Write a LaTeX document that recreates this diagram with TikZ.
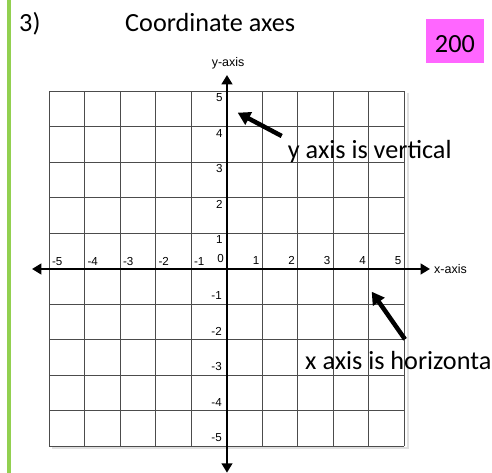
\documentclass[tikz,border=0pt]{standalone}
\usepackage{fontspec}
\setmainfont{Carlito}
\newfontfamily\arialfont{Liberation Sans}
\usetikzlibrary{arrows.meta}
\definecolor{slidegreen}{HTML}{92D050}
\definecolor{pointspink}{HTML}{FF66FF}
\begin{document}
\begin{tikzpicture}[
    bigtext/.style={font=\fontsize{21}{25}\selectfont, inner sep=0pt},
    ticklabel/.style={font=\arialfont\fontsize{9.3}{11}\selectfont, inner sep=0pt},
    axislabel/.style={font=\arialfont\fontsize{10}{12}\selectfont, inner sep=0pt},
    axisline/.style={line width=2.3pt, -{Triangle[length=7.5pt,width=8.5pt]}},
    pointer/.style={line width=3.6pt, -{Triangle[length=10pt,width=11pt]}}
  ]
  \useasboundingbox (-6.394,-5.746) rectangle (7.465,7.577);
  \fill[slidegreen] (-6.197,-5.746) rectangle (-6.07,7.577);

  % heading
  \node[bigtext, anchor=base west] (qnum) at (-5.859,6.685) {3)};
  \node[bigtext, anchor=base west] (title) at (-2.873,6.685) {Coordinate axes};
  \node[bigtext, fill=pointspink, text height=0.674cm, text depth=0pt,
        minimum width=1.633cm, minimum height=1.231cm] (points) at (6.42,6.427) {200};

  % grid
  \draw[black!12, line width=1.2pt] (5.1,4.97) -- (5.1,-5.04) -- (-4.93,-5.04);
  \draw[black!70, line width=0.8pt] (-5,-5) grid (5,5);

  % axes
  \coordinate (xleft) at (-5.493,0);
  \coordinate (xright) at (5.718,0);
  \coordinate (ytop) at (0,5.465);
  \coordinate (ybottom) at (0,-5.738);
  \draw[axisline] (0,0) -- (xright);
  \draw[axisline] (0,0) -- (xleft);
  \draw[axisline] (0,0) -- (ytop);
  \draw[axisline] (0,0) -- (ybottom);
  \node[axislabel, anchor=west] (xlabel) at (5.83,0) {x-axis};
  \node[axislabel] (ylabel) at (0.03,5.80) {y-axis};

  % tick numbers
  \foreach \n in {-5,...,-1} {
    \node[ticklabel, anchor=base west] (xn\n) at (\n+0.065,0.11) {\n};
    \node[ticklabel, anchor=south east] (yn\n) at (-0.14,\n+0.12) {\n};
  }
  \foreach \n in {1,...,5} {
    \node[ticklabel, anchor=base east] (xp\n) at (\n-0.085,0.13) {\n};
    \node[ticklabel, anchor=north east] (yp\n) at (-0.12,\n-0.06) {\n};
  }
  \node[ticklabel, anchor=base east] (zero) at (-0.085,0.18) {0};

  % notes
  \node[bigtext, anchor=base west] (ynote) at (1.71,3.118) {y axis is vertical};
  \node[bigtext, anchor=base west] (xnote) at (2.197,-2.825) {x axis is horizonta};
  \coordinate (ytail) at (1.541,3.746);
  \coordinate (yhead) at (0.301,4.403);
  \coordinate (xtail) at (5.014,-1.980);
  \coordinate (xhead) at (4.076,-0.639);
  \draw[pointer] (ytail) -- (yhead);
  \draw[pointer] (xtail) -- (xhead);
\end{tikzpicture}
\end{document}
